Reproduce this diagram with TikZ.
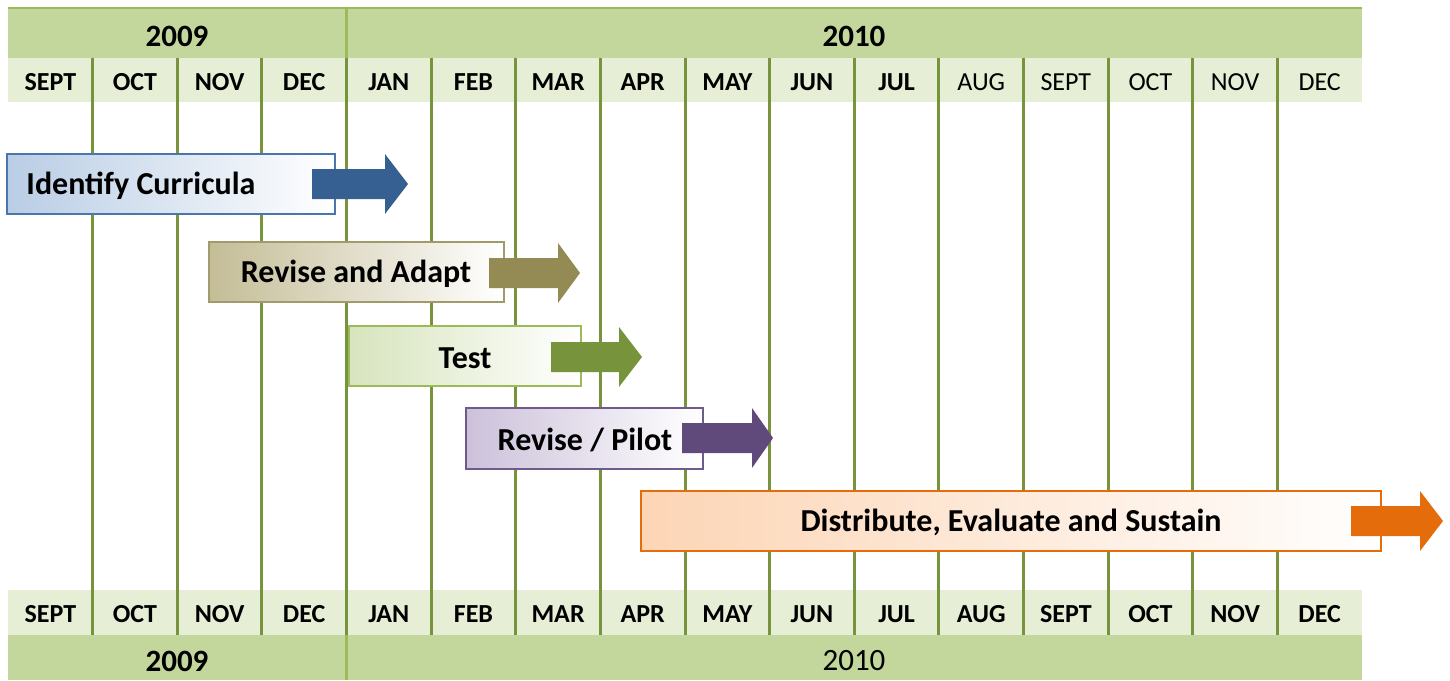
\documentclass[tikz,border=0pt]{standalone}
\usepackage{fontspec}
\setmainfont{Carlito}
\usetikzlibrary{fit}

\definecolor{yearband}{HTML}{C3D69B}
\definecolor{monthband}{HTML}{E6EED5}
\definecolor{gridline}{HTML}{77933C}
\definecolor{yearline}{HTML}{9BBB59}
\definecolor{identdark}{HTML}{376092}
\definecolor{identlight}{HTML}{B9CDE5}
\definecolor{identedge}{HTML}{4A76AE}
\definecolor{revdark}{HTML}{948A54}
\definecolor{revlight}{HTML}{C4BD97}
\definecolor{revedge}{HTML}{A39A6C}
\definecolor{testdark}{HTML}{77933C}
\definecolor{testlight}{HTML}{D7E4BD}
\definecolor{testedge}{HTML}{9BBB59}
\definecolor{pilotdark}{HTML}{604A7B}
\definecolor{pilotlight}{HTML}{CCC1DA}
\definecolor{pilotedge}{HTML}{6F5A8C}
\definecolor{distdark}{HTML}{E46C0A}
\definecolor{distlight}{HTML}{FCD5B5}
\definecolor{distedge}{HTML}{E46C0A}

\tikzset{
  monthlabel/.style={font=\fontsize{13}{15}\selectfont, inner sep=0pt},
  yearlabel/.style={font=\fontsize{15.5}{18}\selectfont, inner sep=0pt},
  tasklabel/.style={font=\fontsize{16}{19}\selectfont\bfseries, inner sep=0pt},
  taskbox/.style={draw=#1edge, line width=1pt, left color=#1light, right color=white, inner sep=0pt},
}

% shaft start, head start, tip, centre y
\newcommand{\taskarrow}[5]{%
  \fill[#1] (#2,#5-15) -- (#3,#5-15) -- (#3,#5-30) -- (#4,#5) -- (#3,#5+30) -- (#3,#5+15) -- (#2,#5+15) -- cycle;}

\begin{document}
\begin{tikzpicture}[x=0.5pt,y=-0.5pt]
\useasboundingbox (0,0) rectangle (1450,680);

% bands
\fill[yearband] (8,8) rectangle (1362,58);
\fill[monthband] (8,58) rectangle (1362,102);
\fill[monthband] (8,590) rectangle (1362,635);
\fill[yearband] (8,635) rectangle (1362,680);
\draw[yearline, line width=1pt] (8,8) -- (1362,8);

% grid
\foreach \i in {1,...,15}
  \draw[gridline, line width=1.5pt] (8+84.625*\i,58) -- (8+84.625*\i,635);
\draw[yearline, line width=1.5pt] (346.5,8) -- (346.5,58);
\draw[yearline, line width=1.5pt] (346.5,635) -- (346.5,680);

% months
\foreach \m [count=\i] in {SEPT,OCT,NOV,DEC,JAN,FEB,MAR,APR,MAY,JUN,JUL,AUG,SEPT,OCT,NOV,DEC} {
  \node[monthlabel] (top\i) at (8+84.625*\i-42.3,82) {\ifnum\i<12 \bfseries\fi\m};
  \node[monthlabel] (bot\i) at (8+84.625*\i-42.3,614) {\bfseries\m};
}

% years
\node[yearlabel, font=\fontsize{15.5}{18}\selectfont\bfseries] (ytop1) at (177,36) {2009};
\node[yearlabel, font=\fontsize{15.5}{18}\selectfont\bfseries] (ytop2) at (854,36) {2010};
\node[yearlabel, font=\fontsize{15.5}{18}\selectfont\bfseries] (ybot1) at (177,661) {2009};
\node[yearlabel] (ybot2) at (854,661) {2010};

% tasks
\node[taskbox=ident, fit={(7,154) (335,214)}] (ident) {};
\node[tasklabel] at (141,186) {Identify Curricula};
\taskarrow{identdark}{312}{385}{408}{184}

\node[taskbox=rev, fit={(209,242) (504,302)}] (revise) {};
\node[tasklabel] at (356,274) {Revise and Adapt};
\taskarrow{revdark}{489}{558}{580}{273}

\node[taskbox=test, fit={(349,326) (581,386)}] (test) {};
\node[tasklabel] at (465,358) {Test};
\taskarrow{testdark}{551}{619}{642}{357}

\node[taskbox=pilot, fit={(466,408) (703,469)}] (pilot) {};
\node[tasklabel] at (585,440) {Revise / Pilot};
\taskarrow{pilotdark}{682}{752}{773}{438}

\node[taskbox=dist, fit={(641,491) (1381,551)}] (dist) {};
\node[tasklabel] at (1011,522) {Distribute, Evaluate and Sustain};
\taskarrow{distdark}{1351}{1420}{1443}{521}

\end{tikzpicture}
\end{document}
